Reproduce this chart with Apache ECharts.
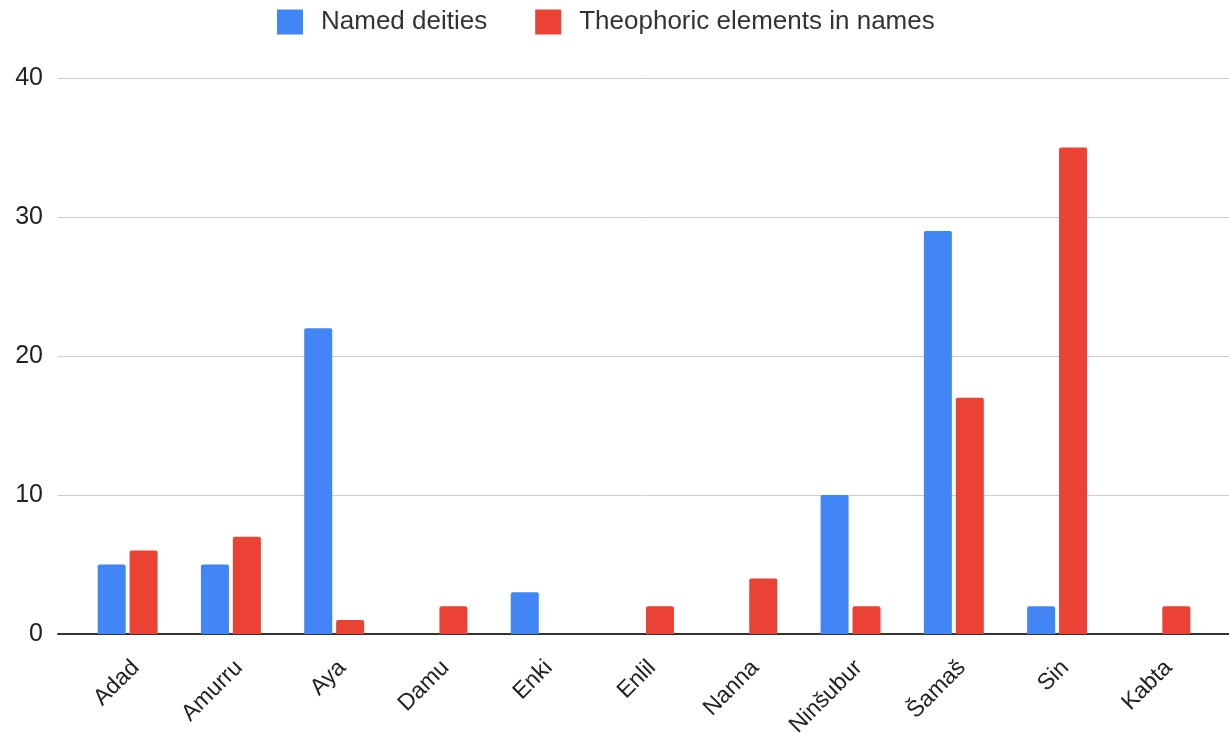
<!DOCTYPE html>
<html>
<head>
<meta charset="utf-8">
<script src="https://cdn.jsdelivr.net/npm/echarts@6/dist/echarts.min.js"></script>
<style>
  html, body { margin: 0; padding: 0; background: #fff; }
  #chart { width: 1229px; height: 745px; }
</style>
</head>
<body>
<div id="chart"></div>
<script>
const deities = ['Adad', 'Amurru', 'Aya', 'Damu', 'Enki', 'Enlil', 'Nanna', 'Ninšubur', 'Šamaš', 'Sin', 'Kabta']
const namedDeities = [5, 5, 22, 0, 3, 0, 0, 10, 29, 2, 0]
const theophoric = [6, 7, 1, 2, 0, 2, 4, 2, 17, 35, 2]

const chart = echarts.init(document.getElementById('chart'))

const font = 'Liberation Sans, Arial, sans-serif'

const option = {
  animation: false,
  textStyle: { fontFamily: font },
  legend: {
    top: 9,
    left: 277,
    padding: 0,
    icon: 'rect',
    itemWidth: 26,
    itemHeight: 25,
    itemGap: 48,
    textStyle: {
      fontSize: 26,
      color: '#333',
      fontFamily: font,
      padding: [0, 0, 0, 13],
    },
    data: ['Named deities', 'Theophoric elements in names'],
  },
  grid: [
    { left: 58, right: 0, top: 78, bottom: 111 },
    { left: 76, right: 17, top: 78, bottom: 111 },
  ],
  xAxis: [
    {
      gridIndex: 0,
      type: 'category',
      data: [''],
      axisLine: { show: true, lineStyle: { color: '#333', width: 2 } },
      axisTick: { show: false },
      axisLabel: { show: false },
    },
    {
      gridIndex: 1,
      type: 'category',
      data: deities,
      axisLine: { show: false },
      axisTick: { show: false },
      axisLabel: {
        rotate: 45,
        fontSize: 23,
        color: '#222',
        margin: 22,
        verticalAlign: 'top',
        interval: 0,
        fontFamily: font,
      },
    },
  ],
  yAxis: [
    {
      gridIndex: 0,
      type: 'value',
      min: 0,
      max: 40,
      interval: 10,
      axisLine: { show: false },
      axisTick: { show: false },
      axisLabel: { fontSize: 25, color: '#222', margin: 15, fontFamily: font },
      splitLine: { lineStyle: { color: '#ccc', width: 1 } },
    },
    {
      gridIndex: 1,
      type: 'value',
      min: 0,
      max: 40,
      show: false,
      splitLine: { show: false },
    },
  ],
  series: [
    {
      name: 'Named deities',
      type: 'bar',
      xAxisIndex: 1,
      yAxisIndex: 1,
      data: namedDeities,
      barWidth: 28,
      barGap: '14%',
      itemStyle: { color: '#4285F4', borderRadius: [2, 2, 0, 0] },
    },
    {
      name: 'Theophoric elements in names',
      type: 'bar',
      xAxisIndex: 1,
      yAxisIndex: 1,
      data: theophoric,
      barWidth: 28,
      barGap: '14%',
      itemStyle: { color: '#EA4335', borderRadius: [2, 2, 0, 0] },
    },
  ],
}

chart.setOption(option, true)
</script>
</body>
</html>
